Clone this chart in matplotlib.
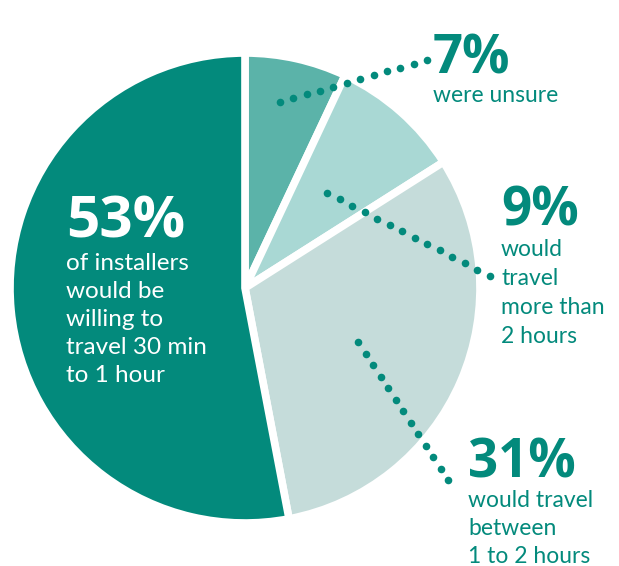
import matplotlib
matplotlib.use("Agg")
import matplotlib.pyplot as plt
import numpy as np

# Survey shares, clockwise from 12 o'clock
labels = ["were unsure", "would travel more than 2 hours",
          "would travel between 1 to 2 hours",
          "would be willing to travel 30 min to 1 hour"]
values = [7, 9, 31, 53]
colors = ["#5BB3A9", "#A9D8D4", "#C5DCDA", "#038A7C"]

TEAL = "#038A7C"
W, H = 619, 566

fig = plt.figure(figsize=(W / 100, H / 100), dpi=100)
ax = fig.add_axes([0, 0, 1, 1])


def Y(y):
    """Convert a top-down pixel row into the axes' bottom-up coordinate."""
    return H - y


ax.pie(values, colors=colors, startangle=90, counterclock=False,
       center=(245, Y(288)), radius=235, frame=True,
       wedgeprops=dict(edgecolor="white", linewidth=5.5))
ax.set_xlim(0, W)
ax.set_ylim(0, H)
ax.set_aspect("equal")
ax.axis("off")

BIG_FONT = "Open Sans"
FONT = "Lato"


def block(x, y_big, pct, lines, color, y_first, step, big=38, small=16.5):
    ax.text(x, Y(y_big), f"{pct}%", fontsize=big, fontweight="bold",
            color=color, family=BIG_FONT, va="baseline", ha="left")
    for i, t in enumerate(lines):
        ax.text(x, Y(y_first + i * step), t, fontsize=small, color=color,
                family=FONT, va="baseline", ha="left")


block(433, 73, values[0], ["were unsure"], TEAL, 102, 29)
block(501, 226, values[1], ["would", "travel", "more than", "2 hours"],
      TEAL, 256, 29)
block(468, 478, values[2], ["would travel", "between", "1 to 2 hours"],
      TEAL, 507, 28)
block(66, 238, values[3], ["of installers", "would be", "willing to",
                           "travel 30 min", "to 1 hour"], "white", 270, 28,
      big=42, small=17.5)


# Dotted leader lines
def dots(p0, p1, n):
    xs = np.linspace(p0[0], p1[0], n)
    ys = np.linspace(Y(p0[1]), Y(p1[1]), n)
    ax.scatter(xs, ys, s=30, color=TEAL, linewidths=0, zorder=5)


dots((280, 102), (427, 60), 12)
dots((327, 193), (490, 276), 14)
dots((358, 342), (448, 480), 13)

fig.savefig("out.png", dpi=100)
